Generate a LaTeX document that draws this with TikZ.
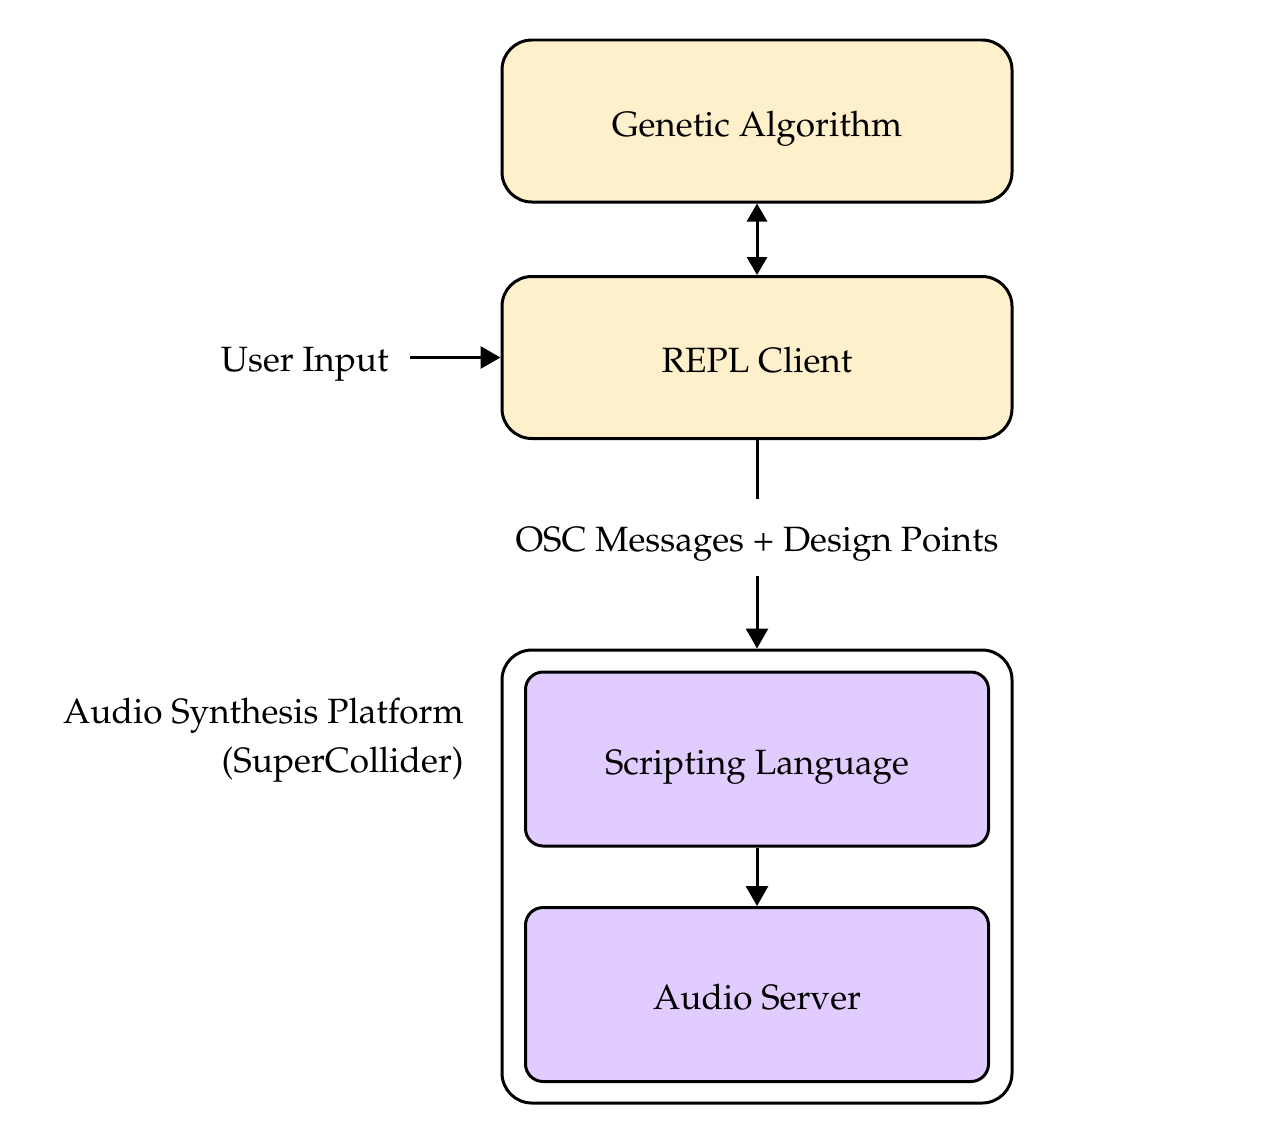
\documentclass[tikz,border=0pt]{standalone}
\usepackage[T1]{fontenc}
\usepackage{mathpazo}
\usepackage{xcolor}
\usepackage{tikz}
\usetikzlibrary{arrows.meta}

\definecolor{gaYellow}{HTML}{FFF0CC}
\definecolor{scPurple}{HTML}{E1CCFF}

\begin{document}
\begin{tikzpicture}[
		block/.style={draw, line width=0.85pt, rounded corners=8.5pt, minimum width=5.1cm, minimum height=1.62cm, align=center, text height=0.38cm, text depth=0.08cm},
		subblock/.style={draw, line width=0.85pt, fill=scPurple, rounded corners=5pt, minimum width=4.63cm, minimum height=1.74cm, align=center, text height=0.38cm, text depth=0.08cm},
		link/.style={-{Triangle[length=2mm, width=2.2mm]}, line width=0.85pt}
	]
	\useasboundingbox (0,0) rectangle (12.68,-11.40);

	\node[block, fill=gaYellow] (ga) at (7.57,-1.21) {Genetic Algorithm};
	\node[block, fill=gaYellow] (repl) at (7.57,-3.575) {REPL Client};

	\node[anchor=east] (user) at (4.01,-3.645) {User Input};

	\node[text height=0.36cm, text depth=0.09cm, inner ysep=0.15cm] (osc) at (7.57,-5.375) {OSC Messages + Design Points};

	\node[block, minimum height=4.53cm] (platform) at (7.57,-8.765) {};
	\node[subblock] (script) at (7.57,-7.59) {Scripting Language};
	\node[subblock] (server) at (7.57,-9.945) {Audio Server};

	\node[anchor=east, align=right] (sclabel) at (4.76,-7.405) {Audio Synthesis Platform\\[0.07cm](SuperCollider)};

	\draw[link, {Triangle[length=1.8mm, width=2mm]}-{Triangle[length=1.8mm, width=2mm]}] (ga.south) -- (repl.north);
	\draw[link] (user.east |- repl.west) ++(0.09,0) coordinate (userend) -- (repl.west);
	\draw[line width=0.85pt] (repl.south) -- (osc.north);
	\draw[link] (osc.south) -- (platform.north);
	\draw[link] (script.south) -- (server.north);
\end{tikzpicture}
\end{document}
